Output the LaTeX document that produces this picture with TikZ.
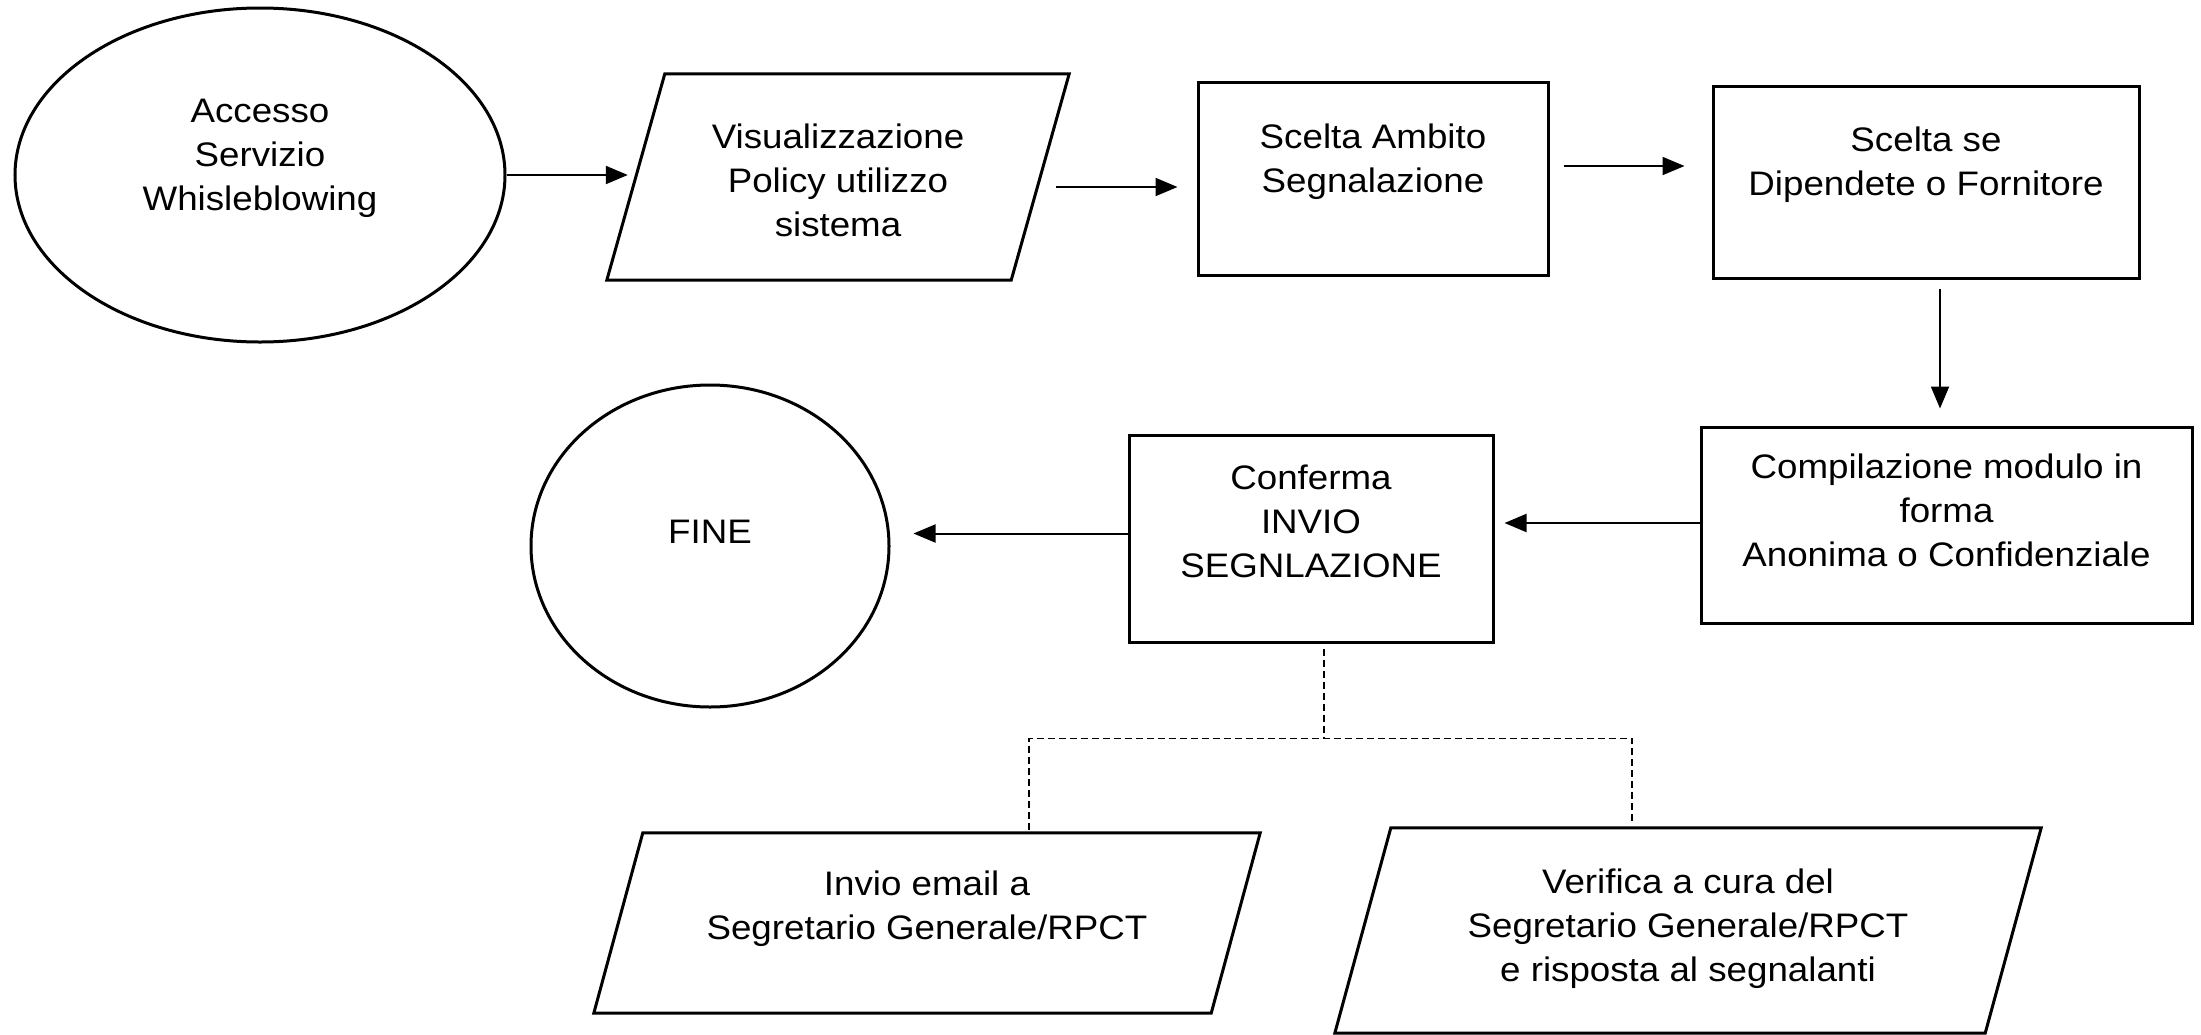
\documentclass[tikz,border=0pt]{standalone}
\usepackage{fontspec}
\setmainfont[FakeStretch=1.08]{Liberation Sans}
\usetikzlibrary{arrows.meta,shapes.geometric,calc}
\begin{document}
\begin{tikzpicture}[x=1pt,y=-1pt,
  outl/.style={draw, line width=3pt},
  boxs/.style={outl, inner sep=0pt},
  hold/.style={inner sep=0pt},
  txt/.style={align=center, inner sep=0pt, font=\fontsize{34}{44}\selectfont},
  arr/.style={-{Triangle[length=22pt,width=18pt]}, line width=2pt},
  dashline/.style={line width=1.5pt, dash pattern=on 7pt off 4pt}]
\useasboundingbox (0,0) rectangle (2201,1034);
\fill[white] (0,0) rectangle (2201,1034);

% start ellipse
\node[ellipse, outl, inner sep=0pt, minimum width=490, minimum height=334] (e1) at (260,175) {};
\node[txt] (te1) at (260,158) {Accesso\\Servizio\\Whisleblowing};

% parallelogram 1
\node[hold, minimum width=404, minimum height=206] (p1) at (838,177) {};
\draw[outl] ([xshift=29]p1.north west) -- ([xshift=29]p1.north east) -- ([xshift=-29]p1.south east) -- ([xshift=-29]p1.south west) -- cycle;
\node[txt] (tp1) at (838,180) {Visualizzazione\\Policy utilizzo\\sistema};

% boxes
\node[boxs, minimum width=350, minimum height=193] (b1) at (1373,178.5) {};
\node[txt] (tb1) at (1373,162) {Scelta Ambito\\Segnalazione};

\node[boxs, minimum width=426, minimum height=192] (b2) at (1926,182) {};
\node[txt] (tb2) at (1926,165) {Scelta se\\Dipendete o Fornitore};

\node[boxs, minimum width=491, minimum height=196] (b3) at (1946.5,525) {};
\node[txt] (tb3) at (1946.5,510) {Compilazione modulo in\\forma\\Anonima o Confidenziale};

\node[boxs, minimum width=364, minimum height=207] (b4) at (1311,538.5) {};
\node[txt] (tb4) at (1311,521) {Conferma\\INVIO\\SEGNLAZIONE};

% end ellipse
\node[ellipse, outl, inner sep=0pt, minimum width=358, minimum height=322] (e2) at (710,546) {};
\node[txt] (te2) at (710,532) {FINE};

% bottom parallelograms
\node[hold, minimum width=617, minimum height=180] (p2) at (927,923) {};
\draw[outl] ([xshift=24.5]p2.north west) -- ([xshift=24.5]p2.north east) -- ([xshift=-24.5]p2.south east) -- ([xshift=-24.5]p2.south west) -- cycle;
\node[txt] (tp2) at (927,909) {Invio email a\\Segretario Generale/RPCT};

\node[hold, minimum width=650, minimum height=205] (p3) at (1688,930.5) {};
\draw[outl] ([xshift=28]p3.north west) -- ([xshift=28]p3.north east) -- ([xshift=-28]p3.south east) -- ([xshift=-28]p3.south west) -- cycle;
\node[txt] (tp3) at (1688,929) {Verifica a cura del\\Segretario Generale/RPCT\\e risposta al segnalanti};

% arrows
\coordinate (a1e) at ([xshift=-8]p1.west);
\draw[arr] (e1.east) -- (e1.east -| a1e);

\coordinate (a2s) at ([shift={(16,10)}]p1.east);
\coordinate (a2e) at ([xshift=-19]b1.west);
\draw[arr] (a2s) -- (a2s -| a2e);

\coordinate (a3s) at ([shift={(14,-12.5)}]b1.east);
\coordinate (a3e) at ([xshift=-27]b2.west);
\draw[arr] (a3s) -- (a3s -| a3e);

\coordinate (a4s) at ([shift={(14,9)}]b2.south);
\coordinate (a4e) at ([shift={(0,-17)}]b3.north);
\draw[arr] (a4s) -- (a4s |- a4e);

\coordinate (a5s) at ([shift={(0,-2)}]b3.west);
\coordinate (a5e) at ([xshift=10]b4.east);
\draw[arr] (a5s) -- (a5s -| a5e);

\coordinate (a6s) at ([shift={(0,-5)}]b4.west);
\coordinate (a6e) at ([xshift=23]e2.east);
\draw[arr] (a6s) -- (a6s -| a6e);

% dashed connectors
\coordinate (d0) at ([shift={(13,5)}]b4.south);
\coordinate (jn) at ([shift={(0,90)}]d0);
\coordinate (dl) at ([shift={(102,-3)}]p2.north);
\coordinate (dr) at ([shift={(-56,-3)}]p3.north);
\draw[dashline] (d0) -- (jn);
\draw[dashline] (dl) -- (dl |- jn) -- (dr |- jn) -- (dr);
\end{tikzpicture}
\end{document}
